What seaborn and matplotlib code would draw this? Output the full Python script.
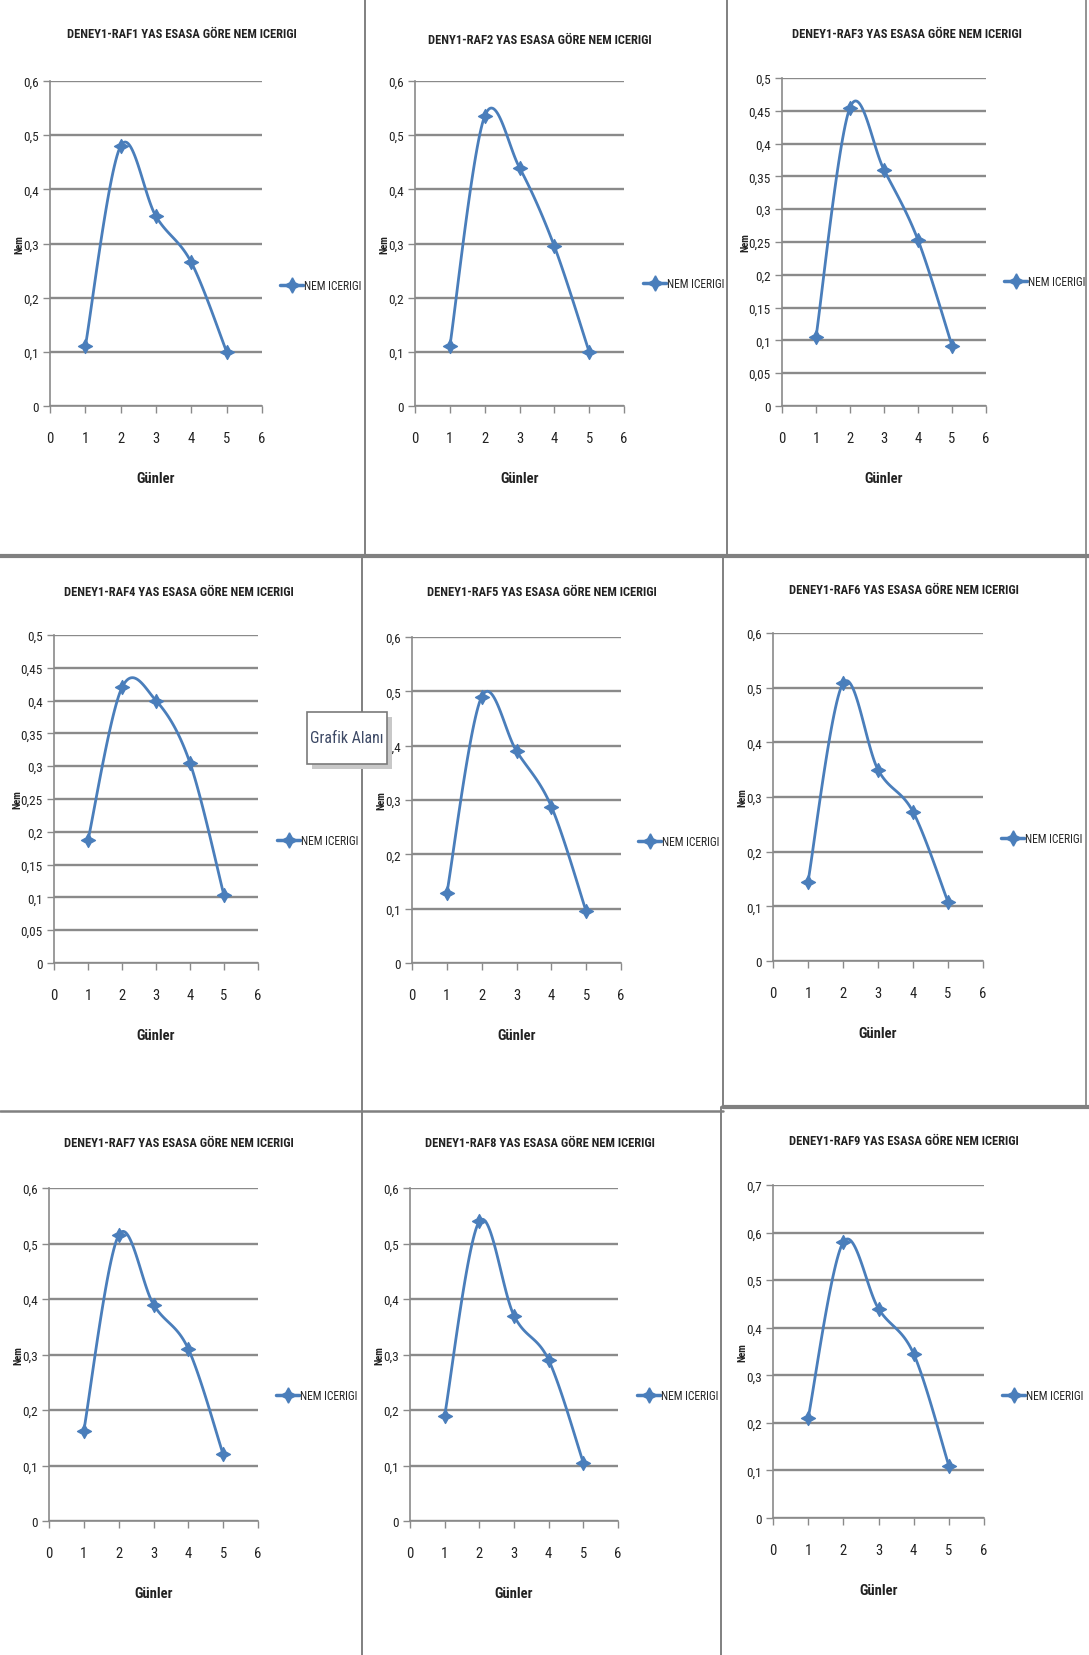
import numpy as np
import pandas as pd
import matplotlib
matplotlib.use("Agg")
import matplotlib.pyplot as plt
from matplotlib import font_manager
from matplotlib.lines import Line2D
from matplotlib.patches import Rectangle
import seaborn as sns

sns.set_theme(style="white")

# Prefer a narrow face; fall back to regular sans faces at a smaller size.
_installed = {f.name for f in font_manager.fontManager.ttflist}
_choices = [("Liberation Sans Narrow", 1.0), ("Roboto Condensed", 1.0),
            ("Open Sans Condensed", 1.0), ("Roboto", 0.85),
            ("Liberation Sans", 0.85), ("DejaVu Sans", 0.78)]
FONT, SCALE = next((n, s) for n, s in _choices if n in _installed)
plt.rcParams["font.family"] = [FONT, "DejaVu Sans"]

# ---- data -------------------------------------------------------------
gunler = [1, 2, 3, 4, 5]

raf1 = [0.110, 0.480, 0.350, 0.265, 0.100]
raf2 = [0.110, 0.535, 0.440, 0.295, 0.100]
raf3 = [0.105, 0.455, 0.360, 0.253, 0.092]
raf4 = [0.187, 0.420, 0.400, 0.305, 0.103]
raf5 = [0.128, 0.490, 0.390, 0.288, 0.095]
raf6 = [0.145, 0.508, 0.350, 0.273, 0.108]
raf7 = [0.163, 0.515, 0.390, 0.310, 0.120]
raf8 = [0.190, 0.540, 0.370, 0.290, 0.105]
raf9 = [0.210, 0.580, 0.440, 0.345, 0.110]

titles = [
    "DENEY1-RAF1 YAS ESASA GÖRE NEM ICERIGI",
    "DENY1-RAF2 YAS ESASA GÖRE NEM ICERIGI",
    "DENEY1-RAF3 YAS ESASA GÖRE NEM ICERIGI",
    "DENEY1-RAF4 YAS ESASA GÖRE NEM ICERIGI",
    "DENEY1-RAF5 YAS ESASA GÖRE NEM ICERIGI",
    "DENEY1-RAF6 YAS ESASA GÖRE NEM ICERIGI",
    "DENEY1-RAF7 YAS ESASA GÖRE NEM ICERIGI",
    "DENEY1-RAF8 YAS ESASA GÖRE NEM ICERIGI",
    "DENEY1-RAF9 YAS ESASA GÖRE NEM ICERIGI",
]
series = [raf1, raf2, raf3, raf4, raf5, raf6, raf7, raf8, raf9]
y_max = [0.6, 0.6, 0.5, 0.5, 0.6, 0.6, 0.6, 0.6, 0.7]
y_step = [0.1, 0.1, 0.05, 0.05, 0.1, 0.1, 0.1, 0.1, 0.1]
x_ticks = [0, 1, 2, 3, 4, 5, 6]
legend_label = "NEM ICERIGI"
x_label = "Günler"
y_label = "Nem"

# ---- layout in pixels ---------------------------------------------------
W, H = 1089, 1656
# plot area: left, right, top, bottom
boxes = [
    (50, 262, 82, 407), (415, 624, 82, 407), (782, 986, 79, 407),
    (54, 258, 636, 964), (412, 621, 638, 964), (773, 983, 634, 962),
    (49, 258, 1189, 1522), (410, 618, 1189, 1522), (773, 984, 1186, 1519),
]
# title centre (x, y)
title_pos = [(182, 35), (540, 41), (907, 35),
             (179, 592), (542, 592), (904, 590),
             (179, 1144), (540, 1144), (904, 1142)]
# legend handle start (x, y)
legend_pos = [(280, 287), (643, 285), (1004, 283),
              (277, 842), (638, 843), (1001, 840),
              (276, 1397), (637, 1397), (1002, 1397)]

BLUE = "#4a7ebb"
GRID = "#8a8a8a"
TXT = "#222222"
STAR = (4, 1, 0)


def fs(size):
    return size * SCALE


def excel_smooth(x, y, n=30):
    """Cubic Bezier smoothing through the points (Excel 'smoothed line')."""
    x = np.asarray(x, float)
    y = np.asarray(y, float)
    px, py = [], []
    for i in range(len(x) - 1):
        x0, y0 = (x[i - 1], y[i - 1]) if i > 0 else (x[i], y[i])
        x3, y3 = (x[i + 2], y[i + 2]) if i + 2 < len(x) else (x[i + 1], y[i + 1])
        c1 = (x[i] + (x[i + 1] - x0) / 6, y[i] + (y[i + 1] - y0) / 6)
        c2 = (x[i + 1] - (x3 - x[i]) / 6, y[i + 1] - (y3 - y[i]) / 6)
        t = np.linspace(0, 1, n, endpoint=(i == len(x) - 2))
        b0 = (1 - t) ** 3
        b1 = 3 * (1 - t) ** 2 * t
        b2 = 3 * (1 - t) * t ** 2
        b3 = t ** 3
        px.append(b0 * x[i] + b1 * c1[0] + b2 * c2[0] + b3 * x[i + 1])
        py.append(b0 * y[i] + b1 * c1[1] + b2 * c2[1] + b3 * y[i + 1])
    return np.concatenate(px), np.concatenate(py)


def fmt(v):
    s = f"{v:.2f}".rstrip("0").rstrip(".")
    return s.replace(".", ",")


fig = plt.figure(figsize=(W / 100, H / 100), dpi=100)
fig.patch.set_facecolor("white")

for k, (vals, title, ymax, ystep, (l, r, t, b)) in enumerate(
        zip(series, titles, y_max, y_step, boxes)):
    ax = fig.add_axes([l / W, 1 - b / H, (r - l) / W, (b - t) / H])
    ax.set_facecolor("white")
    hpx = b - t
    wpx = r - l

    yt = np.round(np.arange(0, ymax + ystep / 2, ystep), 2)
    for yv in yt:
        ax.axhline(yv, color=GRID, lw=1.7, zorder=0)

    sx, sy = excel_smooth(gunler, vals)
    curve = pd.DataFrame({"x": sx, "y": sy})
    sns.lineplot(data=curve, x="x", y="y", sort=False, estimator=None,
                 color=BLUE, lw=2.0, ax=ax, zorder=3)
    pts = pd.DataFrame({"Günler": gunler, "Nem": vals})
    sns.scatterplot(data=pts, x="Günler", y="Nem", marker=STAR, s=100,
                    color=BLUE, edgecolor=BLUE, linewidth=1.0, ax=ax, zorder=4)

    ax.set_xlim(0, 6)
    ax.set_ylim(0, ymax)
    ax.set_xticks(x_ticks)
    ax.set_xticklabels([str(v) for v in x_ticks])
    ax.set_yticks(yt)
    ax.set_yticklabels([fmt(v) for v in yt])
    ax.tick_params(axis="both", which="both", direction="out", length=5,
                   width=1, color=GRID, labelcolor=TXT,
                   bottom=True, left=True)
    ax.tick_params(axis="x", pad=13, labelsize=fs(10.5))
    ax.tick_params(axis="y", pad=3, labelsize=fs(9.5))
    for side in ("top", "right"):
        ax.spines[side].set_visible(False)
    for side in ("left", "bottom"):
        ax.spines[side].set_color(GRID)
        ax.spines[side].set_linewidth(1.2)

    ax.set_xlabel(x_label, fontsize=fs(10.5), fontweight="bold", color=TXT)
    ax.set_ylabel(y_label, fontsize=fs(7.5), fontweight="bold", color=TXT)
    ax.xaxis.set_label_coords(0.5, -65 / hpx)
    ylab_off = 32 if ystep < 0.1 else 26
    ax.yaxis.set_label_coords(-ylab_off / wpx, 0.5)

    tx, ty = title_pos[k]
    fig.text(tx / W, 1 - ty / H, title, ha="center", va="center",
             fontsize=fs(9), fontweight="bold", color=TXT)

    lx, ly = legend_pos[k]
    handle = Line2D([], [], color=BLUE, lw=2.5, marker=STAR, markersize=11,
                    markeredgecolor=BLUE)
    ax.legend([handle], [legend_label], loc="center left",
              bbox_to_anchor=((lx - l) / wpx, 1 - (ly - t) / hpx),
              frameon=False, handlelength=2.0, handletextpad=0.1,
              borderaxespad=0, borderpad=0, prop={"size": fs(8.3)})

# ---- panel separators ---------------------------------------------------
SEP = "#808080"


def hline(y, x0, x1, lw):
    fig.add_artist(Line2D([x0 / W, x1 / W], [1 - y / H, 1 - y / H],
                          color=SEP, lw=lw, transform=fig.transFigure))


def vline(x, y0, y1, lw):
    fig.add_artist(Line2D([x / W, x / W], [1 - y0 / H, 1 - y1 / H],
                          color=SEP, lw=lw, transform=fig.transFigure))


hline(557, 0, W, 3.0)
hline(1112, 0, 723, 1.8)
hline(1108, 723, W, 3.0)
vline(365, 0, 557, 1.4)
vline(727, 0, 557, 1.4)
vline(362, 557, 1112, 1.4)
vline(723, 557, 1108, 1.4)
vline(362, 1112, H, 1.4)
vline(721, 1108, H, 1.4)
vline(1086, 0, 1108, 1.2)

# ---- "Grafik Alanı" tooltip -----------------------------------------------
bx0, by0, bx1, by1 = 307, 713, 387, 765
shadow = Rectangle(((bx0 + 5) / W, 1 - (by1 + 5) / H),
                   (bx1 - bx0) / W, (by1 - by0) / H,
                   transform=fig.transFigure, facecolor="#c8c8c8",
                   edgecolor="none", zorder=9)
box = Rectangle((bx0 / W, 1 - by1 / H), (bx1 - bx0) / W, (by1 - by0) / H,
                transform=fig.transFigure, facecolor="white",
                edgecolor="#7a7a7a", lw=1.2, zorder=10)
fig.add_artist(shadow)
fig.add_artist(box)
fig.text((bx0 + bx1) / 2 / W, 1 - (by0 + by1) / 2 / H, "Grafik Alanı",
         ha="center", va="center", fontsize=fs(11.5), color="#3e4a66", zorder=11)

fig.savefig("out.png", dpi=100, facecolor="white")
